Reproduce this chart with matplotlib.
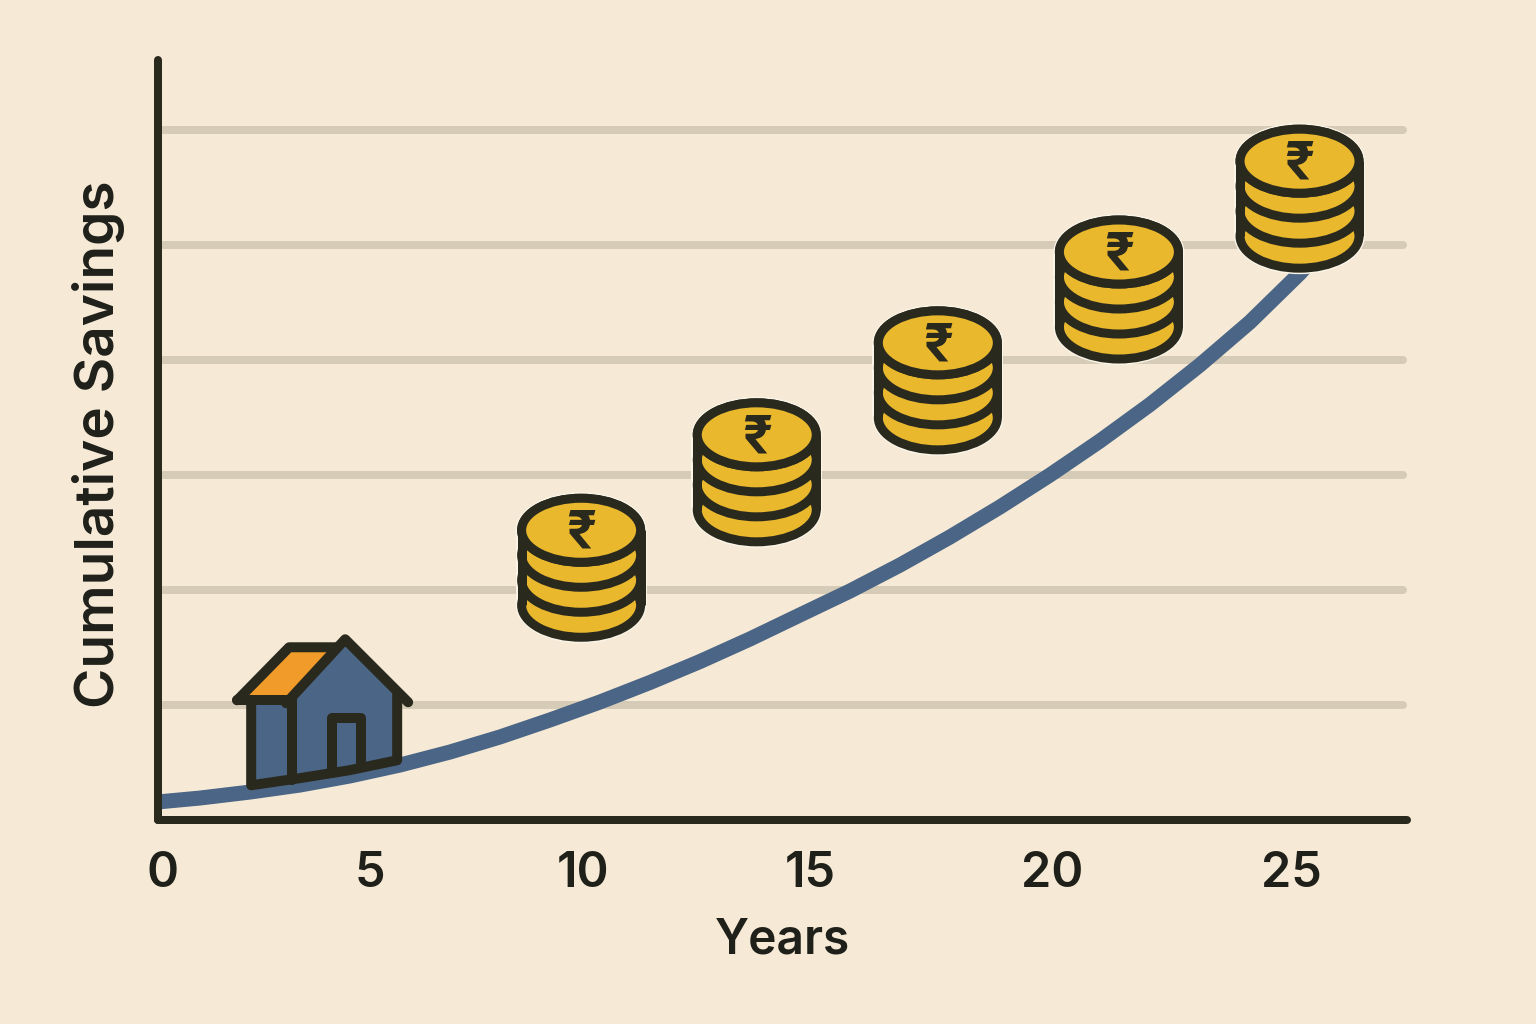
import numpy as np
import matplotlib
matplotlib.use("Agg")
import matplotlib.pyplot as plt
from matplotlib.patches import Ellipse, Polygon
from matplotlib.transforms import Affine2D

# dane
tick_pos = [0, 4.58, 9.30, 14.33, 19.69, 25]
tick_labels = ["0", "5", "10", "15", "20", "25"]
grid_levels = [1, 2, 3, 4, 5, 6]

curve_x = [-0.11, 0.819, 1.926, 3.034, 4.141, 5.248, 6.355, 7.462, 8.570, 9.677, 10.784, 11.891, 12.998,
           14.105, 15.212, 16.320, 17.427, 18.534, 19.641, 20.748, 21.856, 22.963, 24.070, 25.177, 25.731]
curve_y = [0.157, 0.191, 0.243, 0.304, 0.383, 0.478, 0.591, 0.722, 0.870, 1.026, 1.196, 1.378, 1.574,
           1.783, 1.991, 2.217, 2.461, 2.722, 3.000, 3.296, 3.613, 3.957, 4.330, 4.755, 5.000]

coin_x = [9.26, 13.15, 17.16, 21.17, 25.17]
coin_y = [2.52, 3.35, 4.15, 4.94, 5.73]

house_x = [3.57]
house_y = [0.65]

BG = "#F6EAD6"
DARK = "#2A291E"
TEXT = "#20201B"
BLUE = "#4A6585"
GOLD = "#E9B82D"
ORANGE = "#F09B2A"
GRID = "#D6CBB6"
HALO = "#FBF5E8"

W, H = 1536, 1024
DPI = 100
PX = 72 / DPI  # piksele na punkty

plt.rcParams["font.family"] = ["Inter", "DejaVu Sans"]

fig = plt.figure(figsize=(W / DPI, H / DPI), dpi=DPI, facecolor=BG)
ax = fig.add_axes([158 / W, (H - 820) / H, (1407 - 158) / W, (820 - 60) / H])
ax.set_facecolor("none")
ax.set_xlim(-0.11, 27.55)
ax.set_ylim(0, 6.61)

ax.hlines(grid_levels, 0, 27.46, color=GRID, lw=8 * PX, capstyle="round", zorder=1, clip_on=False)
ax.plot(curve_x, curve_y, color=BLUE, lw=15 * PX, solid_capstyle="butt", solid_joinstyle="round", zorder=2)

for s in ["top", "right"]:
    ax.spines[s].set_visible(False)
for s in ["left", "bottom"]:
    ax.spines[s].set_linewidth(8 * PX)
    ax.spines[s].set_color(DARK)
    ax.spines[s].set_capstyle("round")
    ax.spines[s].set_zorder(3)

ax.set_yticks([])
ax.set_xticks(tick_pos)
ax.set_xticklabels(tick_labels, fontsize=35, fontweight="semibold", color=TEXT)
ax.tick_params(axis="x", length=0, pad=22)
ax.set_xlabel("Years", fontsize=34.5, fontweight="semibold", color=TEXT, labelpad=15)
ax.set_ylabel("Cumulative Savings", fontsize=39.5, fontweight="semibold", color=TEXT)
ax.yaxis.set_label_coords((125 - 158) / (1407 - 158), (820 - 444) / 760)


def coin_stack(x, y):
    # kształt rysowany w pikselach wokół punktu danych
    cx, cy = ax.transData.transform((x, y))
    tr = Affine2D().translate(cx, cy)
    w, h, step, lw = 119, 64, 25, 9
    m = 12
    fig.add_artist(Ellipse((0, -3 * step), w + m, h + m, transform=tr, fc=HALO, ec="none", zorder=4))
    fig.add_artist(Ellipse((0, 0), w + m, h + m, transform=tr, fc=HALO, ec="none", zorder=4))
    fig.add_artist(Polygon([(-w / 2 - m / 2, 0), (w / 2 + m / 2, 0), (w / 2 + m / 2, -3 * step), (-w / 2 - m / 2, -3 * step)],
                           transform=tr, fc=HALO, ec="none", zorder=4))
    for i in range(3, -1, -1):
        fig.add_artist(Ellipse((0, -i * step), w, h, transform=tr, fc=GOLD, ec=DARK, lw=lw * PX, zorder=5))
    for side in [-1, 1]:
        fig.add_artist(plt.Line2D([side * w / 2] * 2, [0, -3 * step], transform=tr, color=DARK,
                                  lw=lw * PX, solid_capstyle="butt", zorder=6))
    fig.add_artist(Ellipse((0, 0), w, h, transform=tr, fc=GOLD, ec=DARK, lw=lw * PX, zorder=7))
    fig.text(cx / W, (cy - 5) / H, "\u20b9", fontsize=38, fontweight="bold", color=DARK,
             ha="center", va="center", zorder=8)


def house(x, y):
    cx, cy = ax.transData.transform((x, y))
    # współrzędne względem punktu zaczepienia, y w dół jak na obrazku
    tr = Affine2D().scale(1, -1).translate(cx - 325, cy + 745)
    lw = 10 * PX
    body = [(252, 700), (293, 700), (293, 697), (346, 639), (398, 695), (398, 760), (350, 770), (300, 778), (252, 785)]
    fig.add_artist(Polygon(body, transform=tr, fc=BLUE, ec="none", zorder=4))
    roof = [(243, 698), (290, 649), (335, 649), (288, 698)]
    fig.add_artist(Polygon(roof, transform=tr, fc=ORANGE, ec="none", zorder=4))
    lines = [
        [(252, 700), (252, 785), (300, 778), (350, 770), (398, 760), (398, 695)],
        [(293, 700), (293, 780)],
        [(238, 700), (290, 647), (338, 647)],
        [(238, 700), (293, 700)],
        [(287, 703), (346, 639), (409, 702)],
        [(333, 773), (333, 718), (362, 718), (362, 767)],
    ]
    for pts in lines:
        xs, ys = zip(*pts)
        fig.add_artist(plt.Line2D(xs, ys, transform=tr, color=DARK, lw=lw, solid_capstyle="round",
                                  solid_joinstyle="round", zorder=5))


for x, y in zip(coin_x, coin_y):
    coin_stack(x, y)
for x, y in zip(house_x, house_y):
    house(x, y)

fig.savefig("out.png", dpi=DPI, facecolor=BG)
